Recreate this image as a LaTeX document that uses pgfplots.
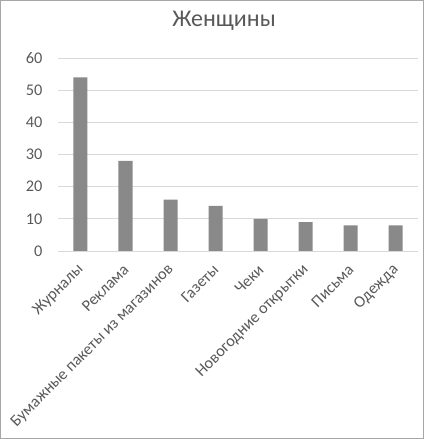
\documentclass[border=0pt]{standalone}
\usepackage{fontspec}
\setmainfont{Carlito}
\usepackage{pgfplots}
\pgfplotsset{compat=1.18}
\definecolor{barc}{RGB}{137,137,137}
\definecolor{gridc}{RGB}{217,217,217}
\definecolor{txtc}{RGB}{89,89,89}
\begin{document}
\begin{tikzpicture}[x=1pt,y=1pt]
\useasboundingbox (0,0) rectangle (424,439);
\draw[color=gray!70, line width=1pt] (0.5,0.5) rectangle (423.5,438.5);
\node[txtc, font=\fontsize{24}{28}\selectfont] at (224,418) {Женщины};
\begin{axis}[
    at={(58pt,188pt)}, anchor=south west,
    scale only axis,
    width=360pt, height=193pt,
    ybar, bar width=14pt,
    xmin=-0.5, xmax=7.5,
    ymin=0, ymax=60,
    ytick={0,10,20,30,40,50,60},
    xtick={0,...,7},
    xticklabels={Журналы, Реклама, Бумажные пакеты из магазинов, Газеты, Чеки, Новогодние открытки, Письма, Одежда},
    xticklabel style={xshift=3pt, yshift=-14pt, rotate=45, anchor=east},
    tick label style={txtc, font=\fontsize{16.3}{19}\selectfont},
    /pgf/number format/assume math mode=true,
    ymajorgrids, grid style={gridc, line width=0.8pt},
    axis x line*=bottom, axis y line*=left,
    x axis line style={gridc, line width=0.8pt, -},
    y axis line style={draw=none},
    major tick length=0pt,
    yticklabel style={xshift=-12pt},
]
\addplot[fill=barc, draw=none] coordinates {
    (0,54) (1,28) (2,16) (3,14) (4,10) (5,9) (6,8) (7,8)
};
\end{axis}
\end{tikzpicture}
\end{document}
